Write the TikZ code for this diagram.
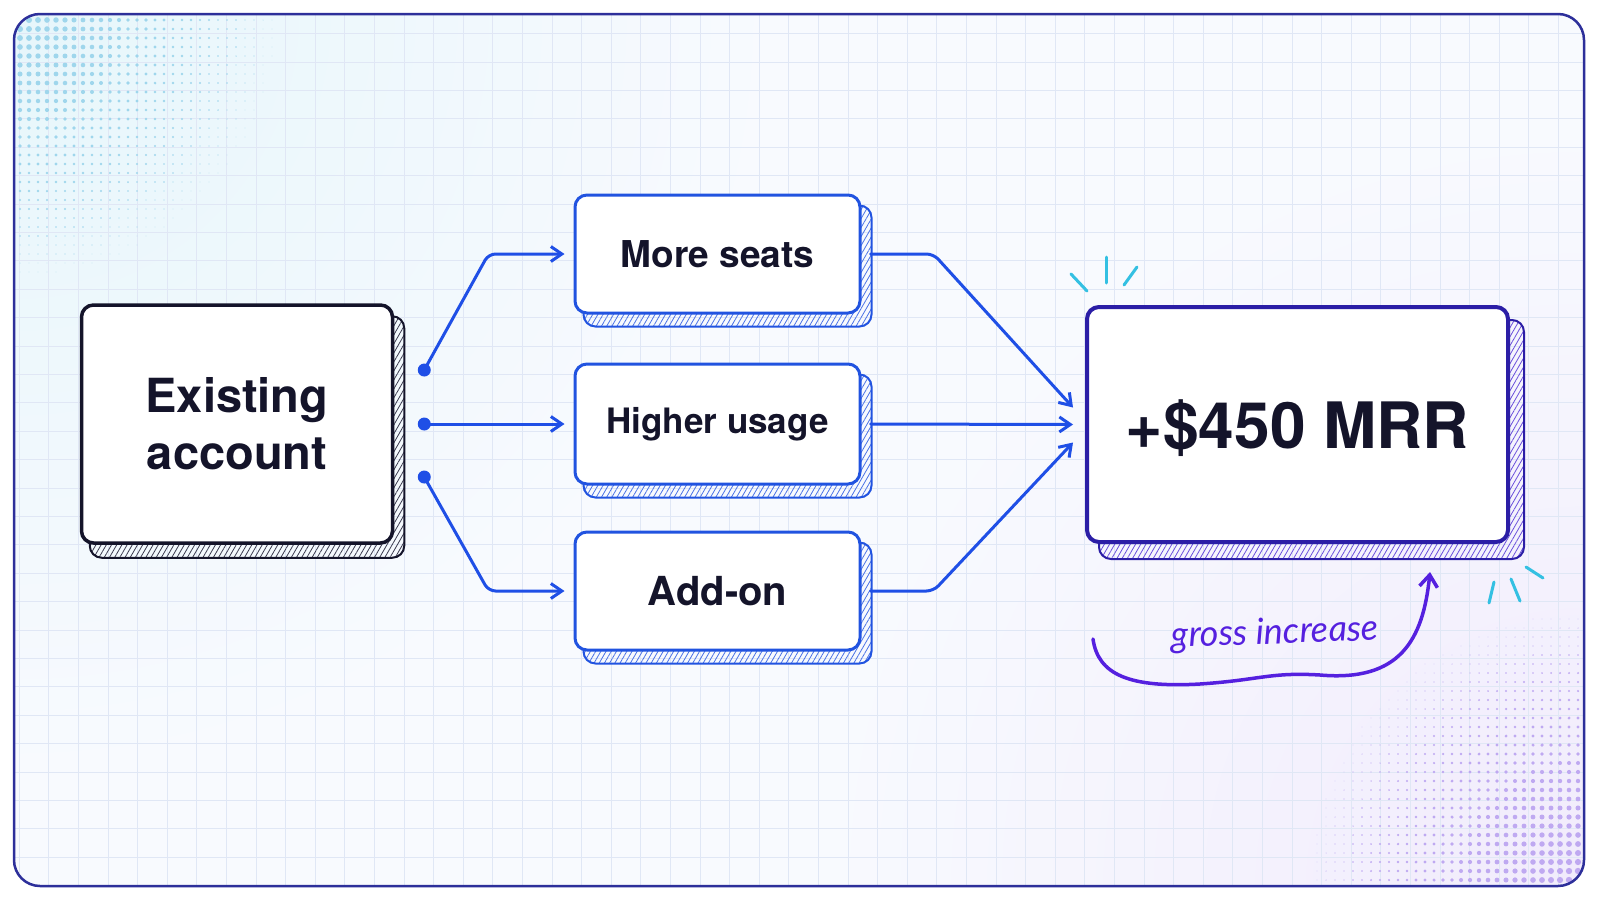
\documentclass[tikz,border=0pt]{standalone}
\usepackage{fontspec}
\setmainfont{TeX Gyre Heros}
\newfontfamily\handfont{Lato}
\usetikzlibrary{arrows.meta,patterns.meta,calc}
\pgfdeclarelayer{back}
\pgfdeclarelayer{shadelayer}
\pgfsetlayers{back,shadelayer,main}
\definecolor{ink}{HTML}{14142A}
\definecolor{inkhatch}{HTML}{3A3A4E}
\definecolor{midblue}{HTML}{2153E0}
\definecolor{midhatch}{HTML}{4A72E6}
\definecolor{connblue}{HTML}{1F4FE6}
\definecolor{indigo}{HTML}{2B1EA6}
\definecolor{mrrhatch}{HTML}{6A4FDC}
\definecolor{framecol}{HTML}{2D2F9A}
\definecolor{sparkcyan}{HTML}{34C0E2}
\definecolor{handpurple}{HTML}{5520DF}
\definecolor{gridcol}{HTML}{E0E7F5}
\definecolor{bgcol}{HTML}{F8FAFE}
\definecolor{tintA}{HTML}{E6F6FB}
\definecolor{tintB}{HTML}{F1EBFC}
\definecolor{dotA}{HTML}{9FD6EC}
\definecolor{dotB}{HTML}{BFA9F1}
\newcommand\hatchshadow[4]{%
  \begin{pgfonlayer}{shadelayer}
    \draw[draw=#2, line width=2pt, rounded corners=12pt,
      pattern={Lines[angle=60,distance=4.5pt,line width=0.8pt]}, pattern color=#3]
      ([shift={(#4)}]#1.north west) rectangle ([shift={(#4)}]#1.south east);
  \end{pgfonlayer}}
\begin{document}
\begin{tikzpicture}[x=1pt,y=-1pt,
  cardbox/.style={rectangle, rounded corners=12pt, fill=white, align=center, text=ink},
  exbox/.style={cardbox, draw=ink, line width=3.5pt, minimum width=311pt, minimum height=238pt,
    font=\bfseries\fontsize{47pt}{57pt}\selectfont},
  midbox/.style={cardbox, draw=midblue, line width=3pt, minimum width=285pt, minimum height=118pt},
  mrrbox/.style={cardbox, draw=indigo, line width=4pt, minimum width=421pt, minimum height=235pt,
    font=\bfseries\fontsize{64pt}{72pt}\selectfont, text depth=0pt},
  conn/.style={draw=connblue, line width=3pt, rounded corners=7pt, line cap=round,
    -{Straight Barb[length=11pt,width=15pt]}},
  spark/.style={draw=sparkcyan, line width=3pt, line cap=round},
  handarrow/.style={draw=handpurple, line width=3.5pt, line cap=round,
    -{Straight Barb[length=12pt,width=18pt]}},
  gridline/.style={draw=gridcol, line width=0.8pt}]
\useasboundingbox (0,0) rectangle (1599,900);

% ---------- background ----------
\begin{pgfonlayer}{back}
  \fill[white] (0,0) rectangle (1599,900);
  \fill[bgcol, rounded corners=26pt] (14,14) rectangle (1584,886);
  \begin{scope}
    \clip[rounded corners=26pt] (14,14) rectangle (1584,886);
    \shade[inner color=tintA, outer color=bgcol] (14,14) circle[radius=760];
    \shade[inner color=tintB, outer color=bgcol] (1584,886) circle[radius=760];
    \foreach \x in {0,...,53} \draw[gridline] ({19.2+29.6*\x},14) -- ({19.2+29.6*\x},886);
    \foreach \y in {0,...,31} \draw[gridline] (14,{5.1+28.4*\y}) -- (1584,{5.1+28.4*\y});
    \foreach \i in {0,...,33}{\foreach \j in {0,...,33}{%
      \pgfmathsetmacro\rr{3.2*(1-100*sqrt(((9*\i+6)/100)^2+((9*\j+6)/100)^2)/295)}%
      \ifdim\rr pt>0.35pt \fill[dotA] ({20+9*\i},{20+9*\j}) circle[radius=\rr];\fi}}
    \foreach \i in {0,...,34}{\foreach \j in {0,...,34}{%
      \pgfmathsetmacro\rr{3.4*(1-100*sqrt(((9*\i+6)/100)^2+((9*\j+6)/100)^2)/305)}%
      \ifdim\rr pt>0.35pt \fill[dotB] ({1578-9*\i},{880-9*\j}) circle[radius=\rr];\fi}}
  \end{scope}
  \draw[framecol, line width=2.5pt, rounded corners=26pt] (14,14) rectangle (1584,886);
\end{pgfonlayer}

% ---------- nodes ----------
\node[exbox] (ex) at (237,424) {\raisebox{-4pt}{\parbox{300pt}{\centering Existing\\account}}};
\node[midbox, font=\bfseries\fontsize{37pt}{40pt}\selectfont] (ms) at (717.5,254) {More seats};
\node[midbox, minimum height=120pt, font=\bfseries\fontsize{35pt}{40pt}\selectfont] (hu) at (717.5,424) {Higher usage};
\node[midbox, font=\bfseries\fontsize{40pt}{44pt}\selectfont] (ad) at (717.5,591) {Add-on};
\node[mrrbox] (mrr) at (1297.5,424.5) {+\$450 MRR};

\hatchshadow{ex}{ink}{inkhatch}{10,13}
\hatchshadow{ms}{midblue}{midhatch}{10,12}
\hatchshadow{hu}{midblue}{midhatch}{10,12}
\hatchshadow{ad}{midblue}{midhatch}{10,12}
\hatchshadow{mrr}{indigo}{mrrhatch}{14,15}

% ---------- left connectors ----------
\coordinate (d1) at ([shift={(30,-54)}]ex.east);
\coordinate (d2) at ([xshift=30pt]ex.east);
\coordinate (d3) at ([shift={(30,53)}]ex.east);
\fill[connblue] (d1) circle[radius=6.5];
\fill[connblue] (d2) circle[radius=6.5];
\fill[connblue] (d3) circle[radius=6.5];
\draw[conn] (d1) -- ($(ms.west)+(-85,0)$) -- ([xshift=-9pt]ms.west);
\draw[conn] (d2) -- ([xshift=-9pt]hu.west);
\draw[conn] (d3) -- ($(ad.west)+(-85,0)$) -- ([xshift=-9pt]ad.west);

% ---------- right connectors ----------
\draw[conn] ([xshift=9pt]ms.east) -- ($(ms.east)+(72,0)$) -- ([shift={(-12,-17)}]mrr.west);
\draw[conn] ([xshift=9pt]hu.east) -- ([xshift=-12pt]mrr.west);
\draw[conn] ([xshift=9pt]ad.east) -- ($(ad.east)+(72,0)$) -- ([shift={(-12,18)}]mrr.west);

% ---------- sparkles ----------
\draw[spark] (1071,274) -- (1087,291);
\draw[spark] (1106,257) -- (1106,283);
\draw[spark] (1137,267) -- (1124,285);
\draw[spark] (1494,582) -- (1489,603);
\draw[spark] (1511,579) -- (1520,601);
\draw[spark] (1526,567) -- (1543,578);

% ---------- gross increase ----------
\coordinate (gs) at ([shift={(8,95)}]mrr.south west);
\coordinate (ge) at ([shift={(-80,28)}]mrr.south east);
\draw[handarrow] (gs) .. controls (1098,675) and (1130,688) .. (1200,684)
  .. controls (1260,680) and (1270,672) .. (1320,675)
  .. controls (1400,682) and (1423,640) .. (ge);
\node[text=handpurple, font=\handfont\itshape\fontsize{36pt}{38pt}\selectfont, rotate=2] (gi) at (1275,634) {gross increase};
\end{tikzpicture}
\end{document}
